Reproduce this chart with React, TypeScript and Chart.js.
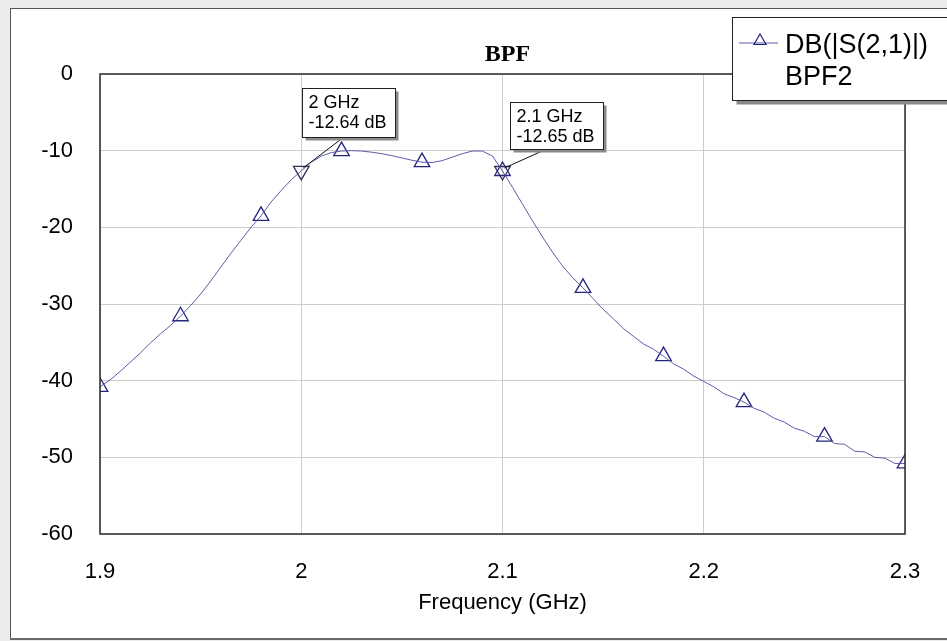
import React, { useEffect, useRef } from "react";
import { Chart, registerables } from "chart.js";

Chart.register(...registerables);

// Frequency (GHz)
const frequencies = [
  1.9, 1.905, 1.91, 1.915, 1.92, 1.925, 1.93, 1.935, 1.94, 1.945,
  1.95, 1.955, 1.96, 1.965, 1.97, 1.975, 1.98, 1.985, 1.99, 1.995,
  2.0, 2.005, 2.01, 2.015, 2.02, 2.025, 2.03, 2.035, 2.04, 2.045,
  2.05, 2.055, 2.06, 2.065, 2.07, 2.075, 2.08, 2.085, 2.09, 2.095,
  2.1, 2.105, 2.11, 2.115, 2.12, 2.125, 2.13, 2.135, 2.14, 2.145,
  2.15, 2.155, 2.16, 2.165, 2.17, 2.175, 2.18, 2.185, 2.19, 2.195,
  2.2, 2.205, 2.21, 2.215, 2.22, 2.225, 2.23, 2.235, 2.24, 2.245,
  2.25, 2.255, 2.26, 2.265, 2.27, 2.275, 2.28, 2.285, 2.29, 2.295,
  2.3,
];

// DB(|S(2,1)|) of BPF2
const s21 = [
  -40.8, -39.9, -38.8, -37.6, -36.4, -35.1, -33.9, -32.8, -31.6, -30.2,
  -28.7, -27.0, -25.2, -23.4, -21.7, -20.0, -18.5, -16.7, -15.2, -13.8,
  -12.64, -11.5, -10.7, -10.25, -10.05, -10.0, -10.05, -10.2, -10.4, -10.65,
  -10.95, -11.25, -11.5, -11.55, -11.3, -10.85, -10.4, -10.05, -10.05, -10.7,
  -12.65, -14.8, -17.0, -19.2, -21.3, -23.3, -25.1, -26.6, -27.9, -29.3,
  -30.7, -31.9, -33.2, -34.2, -35.2, -35.9, -36.8, -37.8, -38.5, -39.4,
  -40.1, -40.8, -41.7, -42.2, -42.8, -43.6, -44.1, -44.9, -45.4, -46.2,
  -46.6, -47.3, -47.3, -48.2, -48.3, -49.2, -49.3, -50.0, -50.1, -50.8,
  -50.8,
];

// Trace symbol positions
const symbolFreqs = [1.9, 1.94, 1.98, 2.02, 2.06, 2.1, 2.14, 2.18, 2.22, 2.26, 2.3];

// Markers
const markerFreqs = [2.0, 2.1];
const markerValues = [-12.64, -12.65];
const markerLines = [
  ["2 GHz", "-12.64 dB"],
  ["2.1 GHz", "-12.65 dB"],
];

const xTicks = [1.9, 2.0, 2.1, 2.2, 2.3];
const yTicks = [0, -10, -20, -30, -40, -50, -60];

const chartTitle = "BPF";
const xTitle = "Frequency (GHz)";
const legendLines = ["DB(|S(2,1)|)", "BPF2"];

const LINE_COLOR = "rgb(92,92,168)";
const SYMBOL_COLOR = "rgb(36,36,125)";
const SANS = "Arial, 'Liberation Sans', sans-serif";
const SERIF = "'Times New Roman', 'Liberation Serif', serif";

function valueAt(f: number): number {
  let best = 0;
  for (let i = 0; i < frequencies.length; i++) {
    if (Math.abs(frequencies[i] - f) < Math.abs(frequencies[best] - f)) best = i;
  }
  return s21[best];
}

function triangle(ctx: CanvasRenderingContext2D, x: number, y: number, r: number, down: boolean) {
  const s = down ? -1 : 1;
  ctx.beginPath();
  ctx.moveTo(x, y - s * r);
  ctx.lineTo(x + r * 0.866, y + s * r * 0.5);
  ctx.lineTo(x - r * 0.866, y + s * r * 0.5);
  ctx.closePath();
  ctx.stroke();
}

const decorPlugin = {
  id: "decor",
  beforeDraw(chart: any) {
    const ctx = chart.ctx as CanvasRenderingContext2D;
    const W = chart.width;
    const H = chart.height;
    ctx.save();
    ctx.fillStyle = "#ececec";
    ctx.fillRect(0, 0, W, H);
    // frame
    ctx.fillStyle = "#ffffff";
    ctx.fillRect(10, 8, W, 631);
    ctx.strokeStyle = "#555555";
    ctx.lineWidth = 1;
    ctx.strokeRect(10.5, 8.5, W + 10, 630);
    ctx.fillStyle = "#6a6a6a";
    ctx.fillRect(10, 638, W, 2);
    ctx.restore();
  },
  afterDatasetsDraw(chart: any) {
    const ctx = chart.ctx as CanvasRenderingContext2D;
    const area = chart.chartArea;
    const xs = chart.scales.x;
    const ys = chart.scales.y;
    ctx.save();
    // plot border
    ctx.strokeStyle = "#2a2a2a";
    ctx.lineWidth = 1.5;
    ctx.strokeRect(area.left, area.top, area.right - area.left, area.bottom - area.top);

    // title
    ctx.fillStyle = "#000";
    ctx.font = `bold 24px ${SERIF}`;
    ctx.textAlign = "center";
    ctx.textBaseline = "middle";
    ctx.fillText(chartTitle, (area.left + area.right) / 2 + 5, 55);

    // marker annotations
    const boxes = [
      { dx: 1, dy: -83, w: 93, h: 49, lx: 42 },
      { dx: 7, dy: -69, w: 93, h: 47, lx: 43 },
    ];
    ctx.font = `18px ${SANS}`;
    ctx.textAlign = "left";
    for (let i = 0; i < markerFreqs.length; i++) {
      const px = xs.getPixelForValue(markerFreqs[i]);
      const py = ys.getPixelForValue(markerValues[i]);
      const b = boxes[i];
      const bx = Math.round(px + b.dx) + 0.5;
      const by = Math.round(py + b.dy) + 0.5;
      // leader line
      ctx.strokeStyle = "#111";
      ctx.lineWidth = 1;
      ctx.beginPath();
      ctx.moveTo(px + 2, py - 3);
      ctx.lineTo(px + b.lx, by + b.h);
      ctx.stroke();
      // shadow
      ctx.fillStyle = "#8a8a8a";
      ctx.fillRect(bx + 3, by + 3, b.w, b.h);
      ctx.fillStyle = "#fff";
      ctx.fillRect(bx, by, b.w, b.h);
      ctx.strokeStyle = "#222";
      ctx.strokeRect(bx, by, b.w, b.h);
      ctx.fillStyle = "#000";
      ctx.fillText(markerLines[i][0], bx + 6, by + 15);
      ctx.fillText(markerLines[i][1], bx + 6, by + 35);
    }

    // legend
    const lx = 732.5;
    const ly = 17.5;
    ctx.fillStyle = "#8a8a8a";
    ctx.fillRect(lx + 4, ly + 4, 260, 83);
    ctx.fillStyle = "#fff";
    ctx.fillRect(lx, ly, 260, 83);
    ctx.strokeStyle = "#222";
    ctx.lineWidth = 1;
    ctx.strokeRect(lx, ly, 260, 83);
    ctx.strokeStyle = LINE_COLOR;
    ctx.beginPath();
    ctx.moveTo(739, 43);
    ctx.lineTo(778, 43);
    ctx.stroke();
    ctx.strokeStyle = SYMBOL_COLOR;
    ctx.lineWidth = 1.2;
    triangle(ctx, 760, 41, 7, false);
    ctx.fillStyle = "#000";
    ctx.font = `27px ${SANS}`;
    ctx.textBaseline = "middle";
    ctx.fillText(legendLines[0], 785, 46);
    ctx.fillText(legendLines[1], 785, 78);
    ctx.restore();
  },
};

export default function App() {
  const canvasRef = useRef<HTMLCanvasElement | null>(null);

  useEffect(() => {
    const canvas = canvasRef.current;
    if (!canvas) return;
    const linePoints = frequencies.map((f, i) => ({ x: f, y: s21[i] }));
    const symbolPoints = symbolFreqs.map((f) => ({ x: f, y: valueAt(f) }));
    const markerPoints = markerFreqs.map((f, i) => ({ x: f, y: markerValues[i] }));

    const chart = new Chart(canvas, {
      type: "line",
      data: {
        datasets: [
          {
            label: legendLines[0],
            data: linePoints,
            borderColor: LINE_COLOR,
            borderWidth: 1,
            pointRadius: 0,
            tension: 0,
            fill: false,
          },
          {
            label: "symbols",
            data: symbolPoints,
            showLine: false,
            pointStyle: "triangle",
            pointRadius: 9,
            borderColor: SYMBOL_COLOR,
            backgroundColor: "rgba(0,0,0,0)",
            borderWidth: 1.3,
          },
          {
            label: "markers",
            data: markerPoints,
            showLine: false,
            pointStyle: "triangle",
            pointRotation: 180,
            pointRadius: 9,
            borderColor: "rgb(50,50,90)",
            backgroundColor: "rgba(0,0,0,0)",
            borderWidth: 1.3,
          },
        ],
      },
      options: {
        responsive: false,
        animation: false,
        layout: { padding: { top: 74, right: 42, left: 0, bottom: 0 } },
        plugins: {
          legend: { display: false },
          title: { display: false },
          tooltip: { enabled: false },
        },
        scales: {
          x: {
            type: "linear",
            min: 1.9,
            max: 2.3,
            afterBuildTicks: (scale: any) => {
              scale.ticks = xTicks.map((v) => ({ value: v }));
            },
            afterFit: (scale: any) => {
              scale.height = 107;
            },
            ticks: {
              padding: 25,
              color: "#000",
              font: { family: SANS, size: 22 },
              maxRotation: 0,
              callback: (v: any) => String(Math.round(Number(v) * 10) / 10),
            },
            grid: { color: "#cdcdcd", lineWidth: 1, drawTicks: false },
            border: { display: false },
            title: {
              display: true,
              text: xTitle,
              color: "#000",
              font: { family: SANS, size: 22 },
              padding: { top: 0, bottom: 25 },
            },
          },
          y: {
            type: "linear",
            min: -60,
            max: 0,
            afterBuildTicks: (scale: any) => {
              scale.ticks = yTicks.map((v) => ({ value: v }));
            },
            afterFit: (scale: any) => {
              scale.width = 100;
            },
            ticks: {
              padding: 27,
              color: "#000",
              font: { family: SANS, size: 22 },
              callback: (v: any) => String(v),
            },
            grid: { color: "#cdcdcd", lineWidth: 1, drawTicks: false },
            border: { display: false },
          },
        },
      },
      plugins: [decorPlugin],
    });
    return () => chart.destroy();
  }, []);

  return (
    <div style={{ position: "fixed", left: 0, top: 0, width: 947, height: 641, overflow: "hidden" }}>
      <canvas ref={canvasRef} width={947} height={641} style={{ display: "block", width: 947, height: 641 }} />
    </div>
  );
}
